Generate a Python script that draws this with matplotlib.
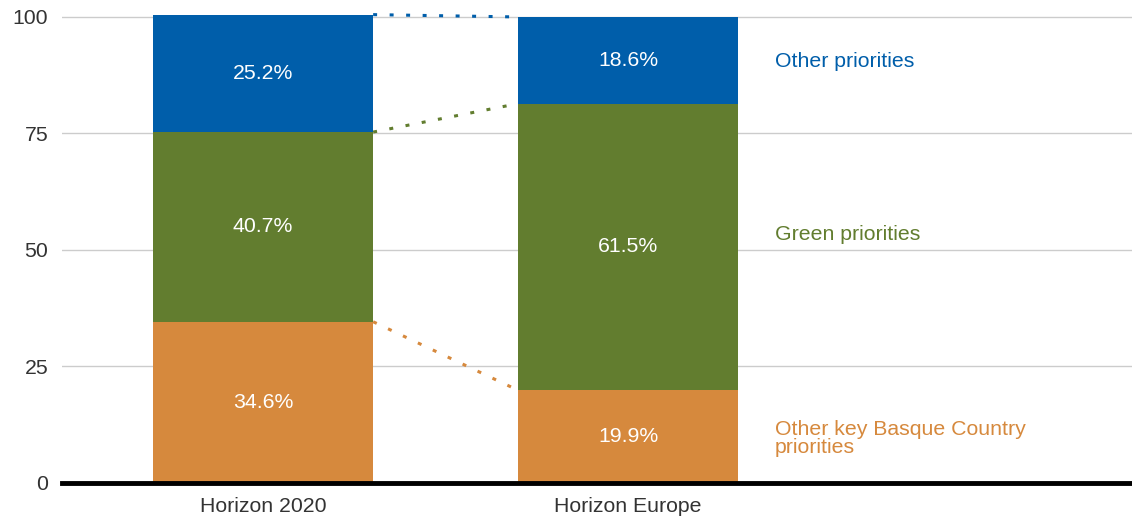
import numpy as np
import matplotlib.pyplot as plt

plt.rcParams['font.family'] = ['Liberation Sans', 'DejaVu Sans']

categories = ['Horizon 2020', 'Horizon Europe']
series_names = ['Other key Basque Country\npriorities', 'Green priorities', 'Other priorities']
basque = [34.6, 19.9]
green = [40.7, 61.5]
other = [25.2, 18.6]
colors = ['#D6893D', '#627D2F', '#005EAA']

series = [basque, green, other]
x = np.arange(len(categories))
width = 0.603
fs = 15.3

fig = plt.figure(figsize=(11.32, 5.19), dpi=100)
ax = fig.add_axes([0.0548, 0.0694, 0.9452, 0.9069])

bottom = np.zeros(len(categories))
tops = []
for vals, col in zip(series, colors):
    vals = np.array(vals)
    ax.bar(x, vals, width, bottom=bottom, color=col, zorder=3)
    for xi, v, b in zip(x, vals, bottom):
        ax.text(xi, b + v / 2, f'{v:.1f}%', ha='center', va='center',
                color='white', fontsize=fs, zorder=4)
    bottom = bottom + vals
    tops.append(bottom.copy())

# dotted connectors between the top of each segment
for top, col in zip(tops, colors):
    ax.plot([x[0] + width / 2, x[1] - width / 2], [top[0], top[1]],
            linestyle=(0, (1.3, 4.1)), color=col, linewidth=2.2, zorder=2)

# series labels on the right
label_y = [9.6, 53.4, 90.4]
for name, col, ly in zip(series_names, colors, label_y):
    ax.text(1.403, ly, name, color=col, fontsize=fs, ha='left', va='center',
            linespacing=0.95)

ax.set_xlim(-0.551, 2.381)
ax.set_ylim(0, 101)
ax.set_yticks([0, 25, 50, 75, 100])
ax.set_xticks(x)
ax.set_xticklabels(categories)
ax.tick_params(axis='both', length=0, labelsize=fs, colors='#333333')
ax.tick_params(axis='y', pad=10)
ax.tick_params(axis='x', pad=10)
ax.grid(axis='y', color='#cccccc', linewidth=1, zorder=0)
for s in ax.spines.values():
    s.set_visible(False)
ax.axhline(0, color='black', linewidth=3.5, zorder=5, clip_on=False)

fig.savefig('out.png', dpi=100)
